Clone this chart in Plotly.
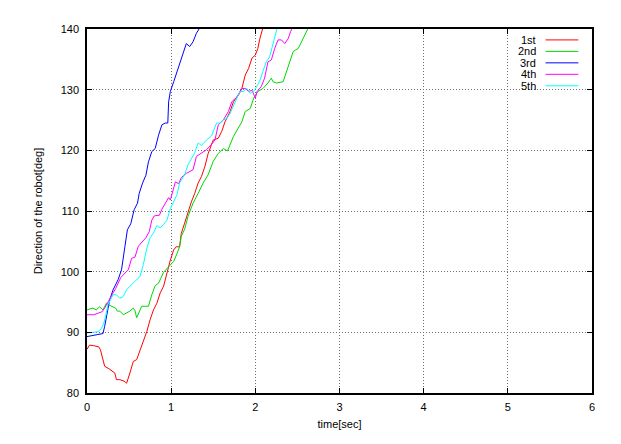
import plotly.graph_objects as go

# robot heading vs time, five trials
names = ["1st", "2nd", "3rd", "4th", "5th"]
colors = ["#ff0000", "#00d800", "#0000ff", "#ff00ff", "#00ffff"]

t_1st = [0, 0.03, 0.08, 0.14, 0.16, 0.21, 0.26, 0.33, 0.35, 0.39, 0.45, 0.47, 0.51, 0.55,
         0.59, 0.63, 0.67, 0.71, 0.75, 0.79, 0.83, 0.87, 0.91, 0.95, 0.99, 1.03, 1.06, 1.10,
         1.12, 1.16, 1.20, 1.24, 1.28, 1.32, 1.36, 1.40, 1.44, 1.48, 1.50, 1.56, 1.60, 1.64,
         1.70, 1.74, 1.80, 1.84, 1.88, 1.92, 1.96, 2.00, 2.03, 2.05, 2.09]
deg_1st = [87.2, 87.9, 87.8, 87.6, 87.1, 84.4, 84.0, 83.3, 82.2, 82.2, 81.9, 81.6, 83.3, 85.2,
           85.5, 87.1, 88.8, 90.1, 92.1, 93.7, 94.8, 96.5, 97.6, 99.8, 101.9, 103.6, 104.1, 104.1,
           106.3, 108.0, 109.9, 111.5, 112.9, 114.6, 115.7, 117.3, 119.5, 121.2, 121.7, 122.0, 123.1, 124.7,
           126.4, 128.0, 129.1, 130.2, 132.4, 133.5, 135.2, 135.7, 136.8, 138.2, 140.2]

t_2nd = [0, 0.07, 0.11, 0.15, 0.19, 0.23, 0.26, 0.30, 0.34, 0.36, 0.39, 0.43, 0.47, 0.51,
         0.55, 0.57, 0.59, 0.63, 0.65, 0.69, 0.73, 0.77, 0.81, 0.85, 0.91, 0.97, 1.01, 1.03,
         1.07, 1.10, 1.12, 1.16, 1.20, 1.26, 1.32, 1.38, 1.44, 1.50, 1.56, 1.62, 1.67, 1.74,
         1.84, 1.88, 1.94, 1.98, 2.03, 2.09, 2.15, 2.19, 2.21, 2.25, 2.33, 2.37, 2.41, 2.45,
         2.51, 2.55, 2.61, 2.63]
deg_2nd = [93.7, 94.0, 93.7, 94.2, 93.7, 94.8, 94.5, 94.3, 94.0, 93.5, 93.5, 92.9, 93.2, 93.5,
           94.0, 93.6, 92.4, 93.5, 94.3, 94.3, 94.3, 96.2, 97.7, 98.1, 99.9, 100.8, 101.4, 101.7,
           103.0, 104.1, 105.8, 107.0, 109.1, 111.3, 112.9, 114.6, 116.0, 118.2, 119.5, 120.3, 119.9, 122.3,
           124.7, 126.4, 126.9, 128.6, 129.7, 130.2, 131.1, 131.9, 131.3, 131.1, 131.3, 133.0, 134.6, 136.3,
           136.8, 137.9, 139.6, 140.2]

t_3rd = [0, 0.05, 0.11, 0.17, 0.19, 0.21, 0.23, 0.25, 0.27, 0.31, 0.35, 0.37, 0.41, 0.43,
         0.45, 0.48, 0.52, 0.56, 0.60, 0.62, 0.66, 0.70, 0.73, 0.77, 0.81, 0.85, 0.89, 0.93,
         0.96, 0.97, 0.99, 1.03, 1.07, 1.10, 1.14, 1.18, 1.22, 1.26, 1.30, 1.34]
deg_3rd = [89.3, 89.4, 89.6, 89.7, 89.8, 91.0, 92.6, 94.3, 95.4, 97.0, 98.1, 98.7, 100.3, 101.9,
           104.1, 106.9, 107.9, 110.2, 111.3, 112.9, 114.6, 115.9, 118.1, 119.8, 120.3, 122.5, 124.2, 124.5,
           124.5, 128.0, 129.7, 131.3, 133.0, 134.1, 135.7, 137.6, 137.1, 137.9, 139.3, 140.2]

t_4th = [0, 0.08, 0.14, 0.18, 0.21, 0.24, 0.27, 0.31, 0.34, 0.37, 0.40, 0.44, 0.49, 0.53,
         0.57, 0.61, 0.66, 0.70, 0.74, 0.77, 0.80, 0.86, 0.89, 0.93, 0.97, 0.99, 1.03, 1.05,
         1.09, 1.12, 1.18, 1.26, 1.30, 1.36, 1.42, 1.48, 1.52, 1.56, 1.62, 1.68, 1.72, 1.78,
         1.84, 1.88, 1.92, 1.96, 2.00, 2.02, 2.07, 2.11, 2.15, 2.19, 2.23, 2.27, 2.31, 2.35,
         2.39, 2.42, 2.44]
deg_4th = [92.9, 92.9, 93.2, 93.4, 94.0, 94.8, 95.6, 96.5, 97.2, 98.2, 99.0, 99.6, 100.3, 102.2,
           102.4, 104.2, 105.0, 105.6, 106.6, 108.5, 109.2, 109.3, 110.3, 111.3, 112.2, 111.8, 113.6, 114.8,
           114.5, 115.5, 116.2, 116.8, 119.0, 119.5, 120.1, 121.0, 121.7, 124.2, 125.0, 126.4, 128.0, 128.8,
           130.2, 130.2, 129.7, 129.9, 128.6, 129.7, 130.5, 131.9, 134.6, 134.9, 136.8, 138.2, 138.2, 137.6,
           138.4, 139.6, 140.2]

t_5th = [0, 0.08, 0.13, 0.17, 0.20, 0.22, 0.25, 0.28, 0.31, 0.35, 0.39, 0.43, 0.47, 0.51,
         0.57, 0.63, 0.67, 0.71, 0.75, 0.79, 0.83, 0.87, 0.91, 0.95, 0.99, 1.03, 1.07, 1.10,
         1.16, 1.20, 1.24, 1.28, 1.32, 1.36, 1.42, 1.48, 1.54, 1.58, 1.62, 1.66, 1.70, 1.74,
         1.78, 1.82, 1.86, 1.90, 1.94, 1.98, 2.02, 2.05, 2.09, 2.13, 2.17, 2.21, 2.24, 2.26]
deg_5th = [89.9, 90.0, 90.1, 90.6, 91.5, 92.6, 94.6, 95.4, 96.2, 96.2, 95.6, 95.9, 97.0, 97.6,
           98.4, 99.2, 101.2, 103.8, 105.6, 106.4, 107.6, 107.2, 107.8, 108.5, 110.4, 111.5, 112.7, 114.6,
           116.0, 117.6, 118.6, 119.6, 121.2, 120.8, 121.7, 122.4, 124.5, 124.5, 125.0, 125.2, 126.1, 127.5,
           128.6, 129.7, 129.7, 130.2, 129.4, 129.7, 130.5, 131.3, 133.0, 134.6, 135.4, 137.6, 139.0, 140.2]

x_ticks = [0, 1, 2, 3, 4, 5, 6]
y_ticks = [80, 90, 100, 110, 120, 130, 140]

series = [(t_1st, deg_1st), (t_2nd, deg_2nd), (t_3rd, deg_3rd), (t_4th, deg_4th), (t_5th, deg_5th)]

FONT = "Liberation Sans, Arial, sans-serif"

fig = go.Figure()
for name, color, (t, deg) in zip(names, colors, series):
    fig.add_trace(go.Scatter(x=t, y=deg, mode="lines", name=name, showlegend=False,
                             line=dict(color=color, width=1)))

# gnuplot-style key: label on the left, line sample on the right
for i, (name, color) in enumerate(zip(names, colors)):
    y_key = 0.970 - i * 0.0315
    fig.add_annotation(x=0.893, y=y_key, xref="paper", yref="paper", text=name,
                       showarrow=False, xanchor="right", yanchor="middle",
                       font=dict(family=FONT, size=11, color="#000000"))
    fig.add_shape(type="line", xref="paper", yref="paper", x0=0.908, x1=0.973,
                  y0=y_key, y1=y_key, line=dict(color=color, width=1))

axis_style = dict(
    showline=True, linecolor="#000000", linewidth=1.5, mirror="allticks",
    ticks="inside", ticklen=5, tickcolor="#000000", tickwidth=1,
    showgrid=True, gridcolor="#707070", griddash="1px,2px", gridwidth=1,
    zeroline=False, tickfont=dict(family=FONT, size=11, color="#000000"),
)

fig.update_xaxes(range=[0, 6], tickvals=x_ticks, ticklabelstandoff=3,
                 title=dict(text="time[sec]", standoff=8,
                            font=dict(family=FONT, size=11, color="#000000")), **axis_style)
fig.update_yaxes(range=[80, 140], tickvals=y_ticks, ticklabelstandoff=4,
                 title=dict(text="Direction of the robot[deg]", standoff=16,
                            font=dict(family=FONT, size=11, color="#000000")), **axis_style)

# page body adds an 8px offset, so the figure is 8px smaller than the window
fig.update_layout(
    width=613, height=436,
    margin=dict(l=79, r=29, t=21, b=51),
    paper_bgcolor="#ffffff", plot_bgcolor="#ffffff",
    font=dict(family=FONT, size=11, color="#000000"),
)

fig.write_html("out.html")
